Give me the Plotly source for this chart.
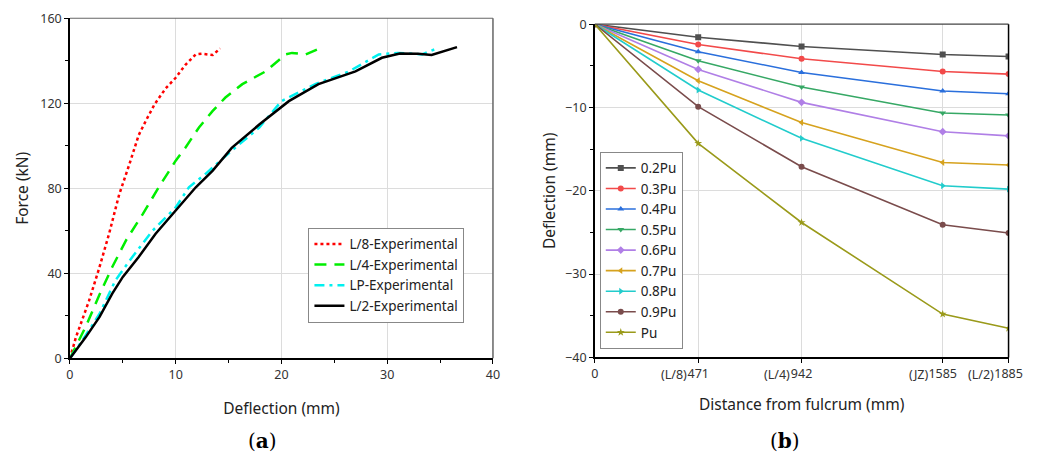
import plotly.graph_objects as go

# ---------- Panel (a): force vs deflection ----------
l8_x = [0, 0.57, 1.8, 2.8, 3.7, 4.65, 5.6, 6.5, 7.2, 8.0, 9.05, 10.0, 10.9, 11.9, 12.5, 13.5, 14.2]
l8_y = [0, 10, 27, 43, 58.6, 77, 91, 105, 112, 119.5, 127, 132, 138, 143, 143.3, 142.7, 145.8]

l4_x = [0, 1.5, 2.8, 4.0, 5.3, 6.9, 8.4, 10.0, 10.9, 12.2, 13.5, 14.7, 16.3, 18.5, 20.4, 21.0, 22.3, 23.7]
l4_y = [0, 15, 30, 43, 55.5, 68, 80.5, 93, 99, 108.6, 116.4, 122.7, 129, 135, 143, 143.7, 143, 146]

lp_x = [0, 1.2, 2.8, 4.3, 5.9, 7.8, 10.0, 11.25, 12.8, 15.3, 17.9, 20.0, 23.2, 26.4, 29.2, 31.0, 33.3, 34.8]
lp_y = [0, 8.6, 21, 36.7, 47.7, 60, 71, 80.5, 86.7, 97.7, 108.6, 121, 129, 135, 143, 143.7, 143, 146]

l2_x = [0, 1.5, 2.8, 4.0, 5.0, 6.5, 8.1, 10.6, 11.9, 13.5, 15.3, 17.9, 20.7, 23.5, 27.0, 29.5, 31.2, 32.9, 34.2, 36.6]
l2_y = [0, 10, 19.5, 30.5, 38.3, 47.7, 58.6, 72.7, 80.5, 88.3, 99, 110, 121, 129, 135, 141.4, 143.4, 143.3, 142.7, 146.4]

# ---------- Panel (b): deflection along beam ----------
positions = [0, 471, 942, 1585, 1885]
pos_numbers = ["0", "471", "942", "1585", "1885"]
pos_prefix = ["", "(L/8)", "(L/4)", "(JZ)", "(L/2)"]
load_names = ["0.2Pu", "0.3Pu", "0.4Pu", "0.5Pu", "0.6Pu", "0.7Pu", "0.8Pu", "0.9Pu", "Pu"]
d_02 = [0, -1.56, -2.67, -3.63, -3.87]
d_03 = [0, -2.43, -4.15, -5.67, -5.99]
d_04 = [0, -3.31, -5.79, -8.02, -8.34]
d_05 = [0, -4.39, -7.54, -10.66, -10.9]
d_06 = [0, -5.43, -9.38, -12.9, -13.4]
d_07 = [0, -6.79, -11.8, -16.6, -16.9]
d_08 = [0, -7.9, -13.7, -19.4, -19.8]
d_09 = [0, -9.9, -17.1, -24.07, -25.07]
d_pu = [0, -14.3, -23.8, -34.8, -36.5]
deflections = [d_02, d_03, d_04, d_05, d_06, d_07, d_08, d_09, d_pu]

colors_b = ["#505050", "#f24a4a", "#2a6fdc", "#36a865", "#b07fe6", "#d6a21e", "#22cccc", "#7a4c4c", "#9a9a1a"]
symbols_b = ["square", "circle", "triangle-up", "triangle-down", "diamond", "triangle-left",
             "triangle-right", "circle", "star"]

FONT = "Noto Sans"
W, H = 1050, 466

fig = go.Figure()

fig.add_trace(go.Scatter(x=l8_x, y=l8_y, mode="lines", name="L/8-Experimental",
                         line=dict(color="#ff0000", width=2.5, dash="dot"), legend="legend"))
fig.add_trace(go.Scatter(x=l4_x, y=l4_y, mode="lines", name="L/4-Experimental",
                         line=dict(color="#00ee00", width=2.5, dash="12px,8px"), legend="legend"))
fig.add_trace(go.Scatter(x=lp_x, y=lp_y, mode="lines", name="LP-Experimental",
                         line=dict(color="#00f0f0", width=2.5, dash="10px,5px,3px,5px"), legend="legend"))
fig.add_trace(go.Scatter(x=l2_x, y=l2_y, mode="lines", name="L/2-Experimental",
                         line=dict(color="#000000", width=2.5), legend="legend"))

for name, vals, c, s in zip(load_names, deflections, colors_b, symbols_b):
    fig.add_trace(go.Scatter(x=positions, y=vals, mode="lines+markers", name=name,
                             line=dict(color=c, width=1.6),
                             marker=dict(symbol=s, size=6, color=c),
                             xaxis="x2", yaxis="y2", legend="legend2"))

axis_common = dict(showline=True, linecolor="black", linewidth=1.5, ticks="outside",
                   ticklen=4, tickwidth=1.2, tickcolor="black", showgrid=True,
                   gridcolor="#dcdcdc", gridwidth=1, zeroline=False,
                   tickfont=dict(family=FONT, size=12.5, color="#333"),
                   title_font=dict(family=FONT, size=15.5, color="#222"))

fig.update_layout(
    width=W, height=H, margin=dict(l=0, r=0, t=0, b=0),
    paper_bgcolor="white", plot_bgcolor="white", showlegend=True,
    xaxis=dict(domain=[0.0639, 0.4738], range=[0, 40], dtick=10,
               minor=dict(dtick=5, ticks="outside", ticklen=3, tickcolor="black", showgrid=False),
               title=dict(text="Deflection (mm)", standoff=21), anchor="y", **axis_common),
    yaxis=dict(domain=[0.2219, 0.9794], range=[0, 160], dtick=40,
               minor=dict(dtick=20, ticks="outside", ticklen=3, tickcolor="black", showgrid=False),
               title=dict(text="Force (kN)", standoff=8), anchor="x", **axis_common),
    xaxis2=dict(domain=[0.5725, 0.9734], range=[0, 1885], tickmode="array",
                tickvals=positions, ticktext=pos_numbers, ticklabeloverflow="allow",
                title=dict(text="Distance from fulcrum (mm)", standoff=18), anchor="y2", **axis_common),
    yaxis2=dict(domain=[0.2240, 0.9661], range=[-40, 0], dtick=10,
                minor=dict(dtick=5, ticks="outside", ticklen=3, tickcolor="black", showgrid=False),
                title=dict(text="Deflection (mm)", standoff=6), anchor="x2", **axis_common),
    legend=dict(x=0.2950, y=0.5127, xanchor="left", yanchor="top", bgcolor="white",
                bordercolor="#888", borderwidth=1, tracegroupgap=0,
                font=dict(family=FONT, size=13.5, color="#222")),
    legend2=dict(x=0.5773, y=0.6824, xanchor="left", yanchor="top", bgcolor="white",
                 bordercolor="#888", borderwidth=1, tracegroupgap=0,
                 font=dict(family=FONT, size=13.5, color="#222")),
)

# prefixes of the distance tick labels
for xv, num, pre in zip(positions, pos_numbers, pos_prefix):
    if pre:
        fig.add_annotation(text=pre, x=xv, xref="x2", y=0, yref="y2 domain",
                           xanchor="right", yanchor="top", showarrow=False,
                           xshift=-(len(num) * 3.7 - 2), yshift=-6.5,
                           font=dict(family=FONT, size=12.5, color="#333"))

# top/right frame lines
for xr, yr, col in [("x domain", "y domain", "#666"), ("x2 domain", "y2 domain", "#444")]:
    fig.add_shape(type="line", xref=xr, yref=yr, x0=0, x1=1, y0=1, y1=1,
                  line=dict(color=col, width=1.2))
    fig.add_shape(type="line", xref=xr, yref=yr, x0=1, x1=1, y0=0, y1=1,
                  line=dict(color=col if col == "#666" else "black", width=1.5))

# panel captions
for txt, xp in [("(<b>a</b>)", 0.2500), ("(<b>b</b>)", 0.7571)]:
    fig.add_annotation(text=txt, x=xp, y=0.0376, xref="paper", yref="paper",
                       showarrow=False, xanchor="center", yanchor="middle",
                       font=dict(family="DejaVu Serif", size=20, color="black"))

fig.write_html("out.html")
